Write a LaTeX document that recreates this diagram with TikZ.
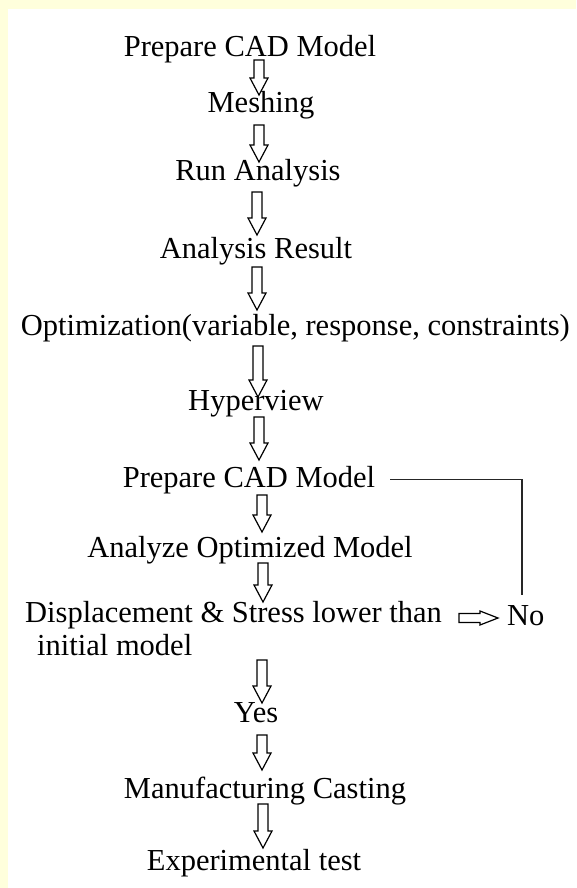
\documentclass[tikz,border=0pt]{standalone}
\usepackage{fontspec}
\setmainfont{Liberation Serif}
\definecolor{bandyellow}{HTML}{FFFFDC}
\tikzset{
  txt/.style={inner sep=0pt, font=\fontsize{30.5}{35}\selectfont, text=black},
  blockarrow/.style={draw=black, line width=1.2pt, fill=white, line join=miter},
  fbline/.style={draw=black!85, line width=1.3pt}
}
\newcommand\dnarrow[3]{%
  \draw[blockarrow] (#1-5,#2) -- (#1+5,#2) -- (#1+5,#3-17) -- (#1+9,#3-17) -- (#1,#3) -- (#1-9,#3-17) -- (#1-5,#3-17) -- cycle;}
\begin{document}
\begin{tikzpicture}[x=1pt,y=-1pt]
\useasboundingbox (0,0) rectangle (576,888);
\fill[white] (0,0) rectangle (576,888);
\fill[bandyellow] (0,0) rectangle (576,9);
\fill[bandyellow] (0,0) rectangle (8,888);

\node[txt, anchor=base] (n1) at (250,57) {Prepare CAD Model};
\node[txt, anchor=base] (n2) at (261,113) {Meshing};
\node[txt, anchor=base] (n3) at (258,180) {Run Analysis};
\node[txt, anchor=base] (n4) at (256,258) {Analysis Result};
\node[txt, anchor=base east] (n5) at (570,335) {Optimization(variable, response, constraints)};
\node[txt, anchor=base] (n6) at (256,410) {Hyperview};
\node[txt, anchor=base] (n7) at (249,487) {Prepare CAD Model};
\node[txt, anchor=base] (n8) at (250,557) {Analyze Optimized Model};
\node[txt, anchor=base west] (n9) at (25,622) {Displacement \& Stress lower than};
\node[txt, anchor=base west] (n9b) at (37,655) {initial model};
\node[txt, anchor=base west] (no) at (507,625) {No};
\node[txt, anchor=base] (yes) at (256,722) {Yes};
\node[txt, anchor=base] (n10) at (265,798) {Manufacturing Casting};
\node[txt, anchor=base] (n11) at (254,870) {Experimental test};

\dnarrow{259}{60}{95}
\dnarrow{259}{125}{162}
\dnarrow{257}{192}{235}
\dnarrow{257}{267}{310}
\dnarrow{258}{346}{397}
\dnarrow{259}{417}{460}
\dnarrow{262}{495}{532}
\dnarrow{263}{563}{602}
\dnarrow{262}{660}{703}
\dnarrow{262}{735}{770}
\dnarrow{263}{804}{848}

% right arrow to No
\draw[blockarrow] (459,613.5) -- (480,613.5) -- (480,611) -- (498,618) -- (480,625) -- (480,622.5) -- (459,622.5) -- cycle;

% feedback line
\coordinate (fbend) at (522,595);
\draw[fbline] ([xshift=15pt]n7.east) -| (fbend);
\end{tikzpicture}
\end{document}
